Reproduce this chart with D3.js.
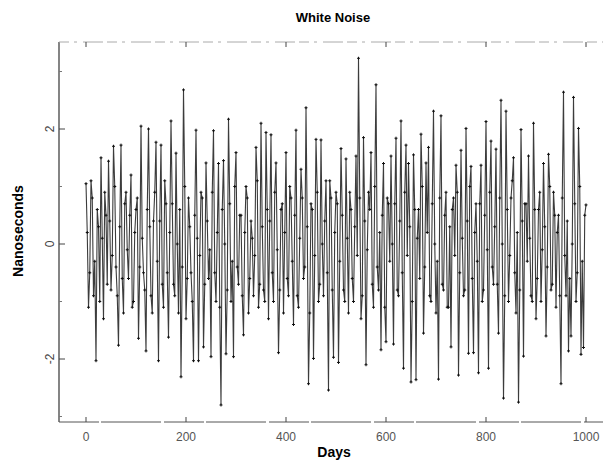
<!DOCTYPE html>
<html><head><meta charset="utf-8">
<script src="https://cdn.jsdelivr.net/npm/d3@7"></script>
<style>body{margin:0;background:#fff;} svg{display:block;}</style>
</head><body>
<svg id="c" width="603" height="461"></svg>
<script>
// Readings on days 0,5,10,...,1000 (peaks / troughs of the trace)
const peakDays = d3.range(0, 1001, 5);
const peakValues = [
 1.05,-1.1,1.1,-0.9,-2.03,0.3,1.5,-1.3,0.5,1.44,
 -0.8,1.7,-0.4,-1.76,1.72,-1.2,0.9,-0.6,1.2,-1.0,
 0.6,-1.64,2.05,-0.5,-1.86,2.0,-0.9,0.4,1.77,-2.03,
 1.72,-1.1,0.7,-1.62,2.14,-0.7,1.58,-1.2,-2.31,2.68,
 -1.3,0.8,-0.5,-2.03,1.98,-2.03,0.9,-1.79,1.41,-0.6,
 -1.96,1.97,-1.0,1.4,-2.8,1.45,-1.91,2.17,-1.0,-1.96,
 1.59,-0.7,0.5,-1.58,1.0,-1.2,0.4,-0.9,1.68,-1.1,
 2.1,-0.8,1.94,-1.3,1.9,-1.0,1.41,-1.89,0.6,-1.2,
 1.59,-0.9,0.8,-1.4,1.98,-1.1,1.3,-0.6,2.37,-2.43,
 0.7,-1.99,1.82,-1.0,1.81,-0.9,1.1,-2.54,0.8,-1.97,
 0.9,-2.06,1.66,-0.8,1.48,-1.2,0.6,-1.0,1.53,3.23,
 -1.3,1.85,-2.1,0.9,1.59,-1.1,2.77,-0.8,-1.84,1.4,
 -1.7,0.7,1.53,-1.74,1.84,-0.9,2.14,-2.16,1.72,1.4,
 -2.4,1.55,-2.36,0.6,1.91,-1.55,1.41,1.68,-1.0,2.31,
 -1.2,-2.35,2.23,-0.8,0.9,-1.1,-1.79,0.8,1.37,-2.28,
 1.63,-0.9,2.01,-1.9,1.35,-1.89,0.7,-2.24,1.37,-0.8,
 2.13,-2.16,1.79,-0.7,1.65,-1.55,2.5,-2.68,2.31,-1.0,
 0.8,1.5,-1.2,-2.75,1.99,-1.95,0.7,1.53,-0.9,2.1,
 -1.3,0.6,-1.0,1.4,-1.6,1.56,-0.8,0.9,-1.1,0.5,
 -2.43,2.64,-0.9,-1.86,-1.6,2.55,-1.0,2.01,-1.92,-1.8,
 0.68
];
// Readings on days 2.5, 7.5, ..., 997.5 (the dense middle band)
const midDays = d3.range(2.5, 1000, 5);
const midValues = [
 0.2,-0.5,0.8,-0.3,0.6,-1.0,0.1,0.9,-0.7,0.4,
 -0.2,1.0,-0.9,0.3,-0.6,0.7,-0.1,0.5,-1.1,0.2,
 0.8,-0.4,0.1,-0.8,0.6,0.3,-1.2,0.9,-0.3,0.4,
 -0.7,1.1,-0.5,0.2,0.7,-0.9,0.0,0.6,-0.4,1.0,
 -0.6,0.3,-1.0,0.5,0.1,-0.2,0.8,-0.7,0.4,-0.1,
 0.9,-0.5,0.2,-1.1,0.6,0.0,-0.8,0.7,-0.3,1.0,
 -0.4,0.5,-0.9,0.2,0.8,-0.6,0.1,-0.2,1.1,-0.7,
 0.3,-1.0,0.6,0.4,-0.5,0.9,-0.1,-0.8,0.7,0.2,
 -0.6,1.0,-0.3,0.5,-0.9,0.1,0.8,-0.4,0.3,-1.2,
 0.6,-0.2,0.9,-0.7,0.0,0.4,-0.5,1.1,-0.8,0.2,
 0.7,-0.3,0.5,-1.0,0.1,0.9,-0.6,0.3,-0.2,0.8,
 -0.9,0.4,-0.1,0.6,-0.7,1.0,-0.4,0.2,0.5,-1.1,
 0.8,-0.3,0.0,0.7,-0.8,0.4,-0.5,0.9,-0.2,0.3,
 -1.0,0.6,0.1,-0.6,1.0,-0.4,0.2,-0.9,0.7,0.0,
 -0.3,0.8,-0.7,0.5,-1.1,0.3,0.6,-0.2,0.9,-0.5,
 0.1,-0.8,0.4,1.0,-0.6,0.2,-0.3,0.7,-1.0,0.5,
 -0.1,0.9,-0.4,0.3,-0.7,0.8,0.0,-0.9,0.6,-0.2,
 1.1,-0.5,0.2,-0.8,0.4,0.7,-0.3,0.1,-1.0,0.6,
 -0.6,0.9,-0.1,0.3,-0.4,1.0,-0.7,0.5,0.2,-0.9,
 0.8,-0.2,0.4,-0.6,0.0,0.7,-0.5,1.0,-0.3,0.5
];
const xTicks = [0, 200, 400, 600, 800, 1000];
const yTicks = [-2, 0, 2];
const yMinor = [-3, -1, 1, 3];

const svg = d3.select("#c");
const x = d3.scaleLinear().domain([0, 1000]).range([86, 586]);
const y = d3.scaleLinear().domain([0, 2]).range([244, 129]);
const L = 59, R = 603, T = 42, B = 422;
const font = "Liberation Sans, Arial, sans-serif";

// frame
svg.append("line").attr("x1", L).attr("x2", L).attr("y1", T).attr("y2", B)
  .attr("stroke", "#333").attr("stroke-width", 1.2);
svg.append("line").attr("x1", L).attr("x2", R).attr("y1", B).attr("y2", B)
  .attr("stroke", "#555").attr("stroke-width", 1).attr("stroke-dasharray", "40,2,60,3");
svg.append("line").attr("x1", L).attr("x2", R).attr("y1", T).attr("y2", T)
  .attr("stroke", "#aaa").attr("stroke-width", 1).attr("stroke-dasharray", "10,5,3,6,20,4");

// x ticks (inward, top and bottom)
xTicks.forEach(d => {
  svg.append("line").attr("x1", x(d)).attr("x2", x(d)).attr("y1", B).attr("y2", B - 5)
    .attr("stroke", "#444");
  svg.append("line").attr("x1", x(d)).attr("x2", x(d)).attr("y1", T).attr("y2", T + 5)
    .attr("stroke", "#444");
  svg.append("text").attr("x", x(d)).attr("y", 441).attr("text-anchor", "middle")
    .attr("font-family", font).attr("font-size", 12)
    .attr("fill", "#555").text(d);
});
// y ticks
yTicks.forEach(d => {
  svg.append("line").attr("x1", L).attr("x2", L + 6).attr("y1", y(d)).attr("y2", y(d))
    .attr("stroke", "#444");
  svg.append("text").attr("transform", `translate(54,${y(d)}) rotate(-90)`)
    .attr("text-anchor", "middle")
    .attr("font-family", font).attr("font-size", 12)
    .attr("fill", "#444").text(d);
});
yMinor.forEach(d => {
  svg.append("line").attr("x1", L).attr("x2", L + 3).attr("y1", y(d)).attr("y2", y(d))
    .attr("stroke", "#777");
});

// series
const data = peakDays.map((d, i) => [d, peakValues[i]])
  .concat(midDays.map((d, i) => [d, midValues[i]]))
  .sort((a, b) => a[0] - b[0]);
const line = d3.line().x(d => x(d[0])).y(d => y(d[1]));
svg.append("path").datum(data).attr("d", line).attr("fill", "none")
  .attr("stroke", "#1a1a1a").attr("stroke-width", 1.1).attr("stroke-opacity", 0.85);
svg.append("g").selectAll("path").data(data).join("path")
  .attr("transform", d => `translate(${x(d[0])},${y(d[1])})`)
  .attr("d", "M-1.5,0H1.5M0,-1.5V1.5").attr("stroke", "#111").attr("stroke-width", 1);

// titles
svg.append("text").attr("x", 333).attr("y", 22).attr("text-anchor", "middle")
  .attr("font-family", font).attr("font-weight", "bold")
  .attr("font-size", 13).text("White Noise");
svg.append("text").attr("x", 334).attr("y", 457).attr("text-anchor", "middle")
  .attr("font-family", font).attr("font-weight", "bold")
  .attr("font-size", 14).text("Days");
svg.append("text").attr("transform", "translate(23,231) rotate(-90)").attr("text-anchor", "middle")
  .attr("font-family", font).attr("font-weight", "bold")
  .attr("font-size", 14).text("Nanoseconds");
</script>
</body></html>
